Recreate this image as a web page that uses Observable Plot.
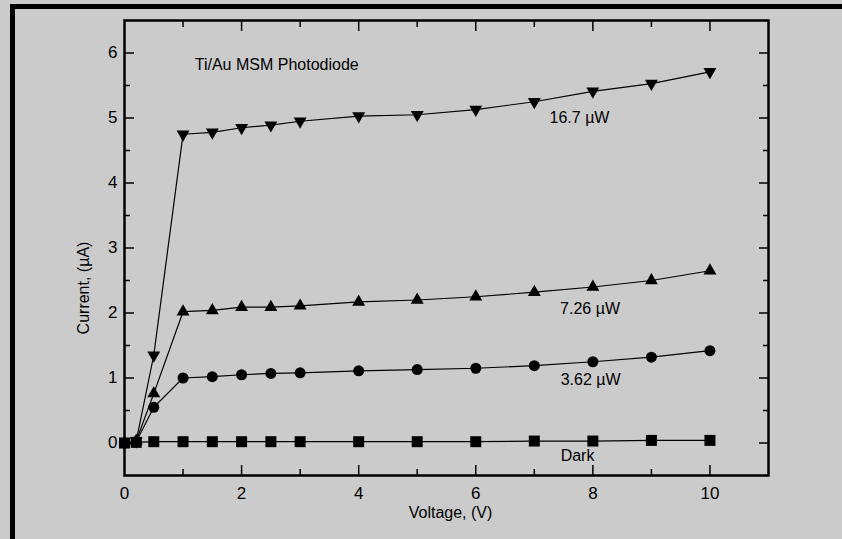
<!DOCTYPE html>
<html>
<head>
<meta charset="utf-8">
<script src="https://cdn.jsdelivr.net/npm/d3@7"></script>
<script src="https://cdn.jsdelivr.net/npm/@observablehq/plot@0.6"></script>
<style>
  html, body { margin: 0; padding: 0; background: #cbcbcb; overflow: hidden; }
  #page { position: relative; width: 842px; height: 539px; }
  #border { position: absolute; left: 10px; top: 4px; right: 0; bottom: 0; border-top: 5px solid #000; border-left: 5px solid #000; }
  #chart { position: absolute; left: 0; top: 0; }
</style>
</head>
<body>
<div id="page"><div id="border"></div><div id="chart"></div></div>
<script>
// Voltage (V) values for each measurement
const voltage = [0, 0.2, 0.5, 1, 1.5, 2, 2.5, 3, 4, 5, 6, 7, 8, 9, 10];
const voltageTri = [0.2, 0.5, 1, 1.5, 2, 2.5, 3, 4, 5, 6, 7, 8, 9, 10];

// Current (µA) series
const dark   = [0, 0.01, 0.02, 0.02, 0.02, 0.02, 0.02, 0.02, 0.02, 0.02, 0.02, 0.03, 0.03, 0.04, 0.04];
const p362   = [0, 0.02, 0.55, 1.0, 1.02, 1.05, 1.07, 1.08, 1.11, 1.13, 1.15, 1.19, 1.25, 1.32, 1.42];
const p726   = [0.03, 0.76, 2.02, 2.04, 2.09, 2.09, 2.11, 2.17, 2.2, 2.25, 2.32, 2.4, 2.5, 2.65];
const p167   = [0.03, 1.35, 4.75, 4.78, 4.85, 4.89, 4.95, 5.03, 5.05, 5.13, 5.25, 5.41, 5.53, 5.71];

// Tick values
const xLabelTicks = [0, 2, 4, 6, 8, 10];
const xMajorTicks = [2, 4, 6, 8, 10];
const xMinorTicks = [1, 3, 5, 7, 9];
const yMajorTicks = [0, 1, 2, 3, 4, 5, 6];
const yMinorTicks = [0.5, 1.5, 2.5, 3.5, 4.5, 5.5];

// Annotations
const annText = ["Ti/Au MSM Photodiode", "16.7 µW", "7.26 µW", "3.62 µW", "Dark"];
const annX    = [1.2, 7.26, 7.44, 7.45, 7.45];
const annY    = [5.82, 5.0, 2.06, 0.97, -0.2];

const xLabel = "Voltage, (V)";
const yLabel = "Current, (µA)";

const darkRows = voltage.map((v, i) => ({v, c: dark[i]}));
const r362 = voltage.map((v, i) => ({v, c: p362[i]}));
const r726 = voltageTri.map((v, i) => ({v, c: p726[i]}));
const r167 = voltageTri.map((v, i) => ({v, c: p167[i]}));
const ann = annText.map((t, i) => ({t, x: annX[i], y: annY[i]}));

const FONT = "'Liberation Sans', Arial, Helvetica, sans-serif";
const lineOpts = {x: "v", y: "c", stroke: "#000", strokeWidth: 1.2};
const intFmt = d => String(d);

const chart = Plot.plot({
  width: 842,
  height: 539,
  marginLeft: 124,
  marginRight: 74,
  marginTop: 20,
  marginBottom: 64,
  x: {domain: [0, 11]},
  y: {domain: [-0.5, 6.5]},
  style: {background: "transparent", fontFamily: FONT, fontSize: "16px", color: "#000"},
  marks: [
    // axes: labels
    Plot.axisX({anchor: "bottom", ticks: xLabelTicks, tickSize: 0, tickPadding: 11, tickFormat: intFmt, label: null, fontSize: 17}),
    Plot.axisY({anchor: "left", ticks: yMajorTicks, tickSize: 0, tickPadding: 7, tickFormat: intFmt, label: null, fontSize: 17}),
    // inward ticks
    Plot.axisX({anchor: "bottom", ticks: xMajorTicks, tickSize: -10, tickFormat: () => "", label: null, strokeWidth: 1.5}),
    Plot.axisX({anchor: "bottom", ticks: xMinorTicks, tickSize: -6, tickFormat: () => "", label: null, strokeWidth: 1.5}),
    Plot.axisX({anchor: "top", ticks: xMajorTicks, tickSize: -10, tickFormat: () => "", label: null, strokeWidth: 1.5}),
    Plot.axisX({anchor: "top", ticks: xMinorTicks, tickSize: -6, tickFormat: () => "", label: null, strokeWidth: 1.5}),
    Plot.axisY({anchor: "left", ticks: yMajorTicks, tickSize: -10, tickFormat: () => "", label: null, strokeWidth: 1.5}),
    Plot.axisY({anchor: "left", ticks: yMinorTicks, tickSize: -6, tickFormat: () => "", label: null, strokeWidth: 1.5}),
    Plot.axisY({anchor: "right", ticks: yMajorTicks, tickSize: -10, tickFormat: () => "", label: null, strokeWidth: 1.5}),
    Plot.axisY({anchor: "right", ticks: yMinorTicks, tickSize: -6, tickFormat: () => "", label: null, strokeWidth: 1.5}),
    Plot.frame({stroke: "#000", strokeWidth: 2.5}),
    // axis titles
    Plot.text([xLabel], {frameAnchor: "bottom", dx: 4, dy: 42, text: d => d, fontSize: 16, fill: "#000"}),
    Plot.text([yLabel], {frameAnchor: "left", textAnchor: "middle", dx: -41, dy: 40, rotate: -90, text: d => d, fontSize: 16, fill: "#000"}),
    // lines
    Plot.line(r167, lineOpts),
    Plot.line(r726, lineOpts),
    Plot.line(r362, lineOpts),
    Plot.line(darkRows, lineOpts),
    // markers
    Plot.dot(r167, {x: "v", y: "c", symbol: "triangle", rotate: 180, r: 4.8, fill: "#000", stroke: "none"}),
    Plot.dot(r726, {x: "v", y: "c", symbol: "triangle", r: 4.8, fill: "#000", stroke: "none"}),
    Plot.dot(r362, {x: "v", y: "c", symbol: "circle", r: 5.5, fill: "#000", stroke: "none"}),
    Plot.dot(darkRows, {x: "v", y: "c", symbol: "square", r: 6.2, fill: "#000", stroke: "none"}),
    // annotations
    Plot.text(ann, {x: "x", y: "y", text: "t", textAnchor: "start", fontSize: 16, fill: "#000"})
  ]
});
document.getElementById("chart").appendChild(chart);
</script>
</body>
</html>
